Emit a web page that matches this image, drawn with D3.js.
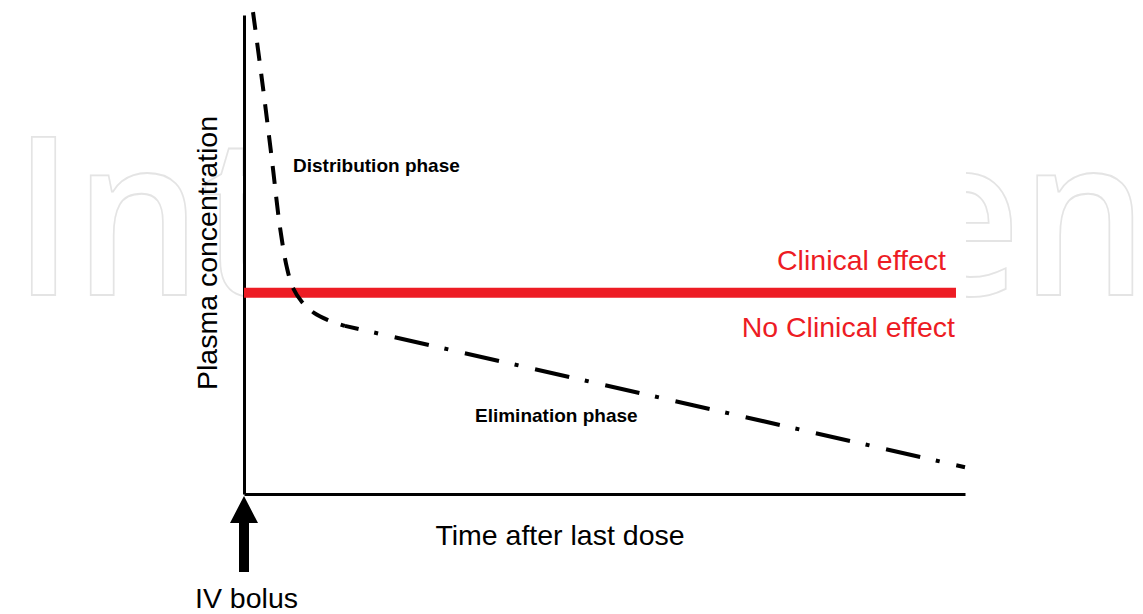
<!DOCTYPE html>
<meta charset="utf-8">
<style>
body { margin: 0; background: #fff; }
svg text { font-family: 'Liberation Sans', Arial, sans-serif; }
.axis path { stroke: #000; stroke-width: 3px; }
.axis .tick { display: none; }
.curve { fill: none; stroke: #000; stroke-width: 4px; }
.distribution { stroke-dasharray: 18 13; }
.elimination { stroke-dasharray: 35 16 4 17; stroke-dashoffset: -51; }
.label { font-size: 19px; font-weight: bold; fill: #000; }
.big { font-size: 28.5px; fill: #000; }
.big.red { fill: #ed1c24; }
</style>
<svg id="svg" width="1143" height="614"></svg>
<script src="https://cdn.jsdelivr.net/npm/d3@7"></script>
<script>

// distribution phase (steep fall), time vs concentration, arbitrary units
let distTime = [1.25, 2.5, 3.88, 4.99, 5.96, 6.8, 8.04, 9.71, 11.65, 14.0]
let distConc = [100.6, 86.4, 69.7, 55.7, 47.2, 43.0, 40.1, 37.8, 36.3, 35.1]

// elimination phase (slow linear fall)
let elimTime = [14.0, 100]
let elimConc = [35.1, 5.6]

// minimum effective concentration
let effectLevel = 42
let effectEnd = 98.75

let width = 1143, height = 614

function translate(x, y) {
    return 'translate(' + x + ',' + y + ')'
}

let svg = d3.select('#svg').attr('width', width).attr('height', height)

let x = d3.scaleLinear().domain([0, 100]).range([244, 965])
let y = d3.scaleLinear().domain([0, 100]).range([494, 15])

// watermark behind the chart
svg.append('text')
    .attr('x', 13)
    .attr('y', 295)
    .attr('textLength', 1135)
    .attr('lengthAdjust', 'spacingAndGlyphs')
    .style('font-family', "'Open Sans', sans-serif")
    .style('font-size', '222px')
    .style('font-weight', 600)
    .attr('fill', 'none')
    .attr('stroke', '#e4e4e4')
    .attr('stroke-width', 1.8)
    .text('IntechOpen')

svg.append('rect')
    .attr('x', x(0))
    .attr('y', 0)
    .attr('width', x(100) - x(0) + 1)
    .attr('height', y(0))
    .attr('fill', '#fff')

// axes, no ticks
svg.append('g')
    .attr('class', 'axis')
    .attr('transform', translate(0, y(0)))
    .call(d3.axisBottom(x).ticks(0).tickSizeOuter(0))

svg.append('g')
    .attr('class', 'axis')
    .attr('transform', translate(x(0), 0))
    .call(d3.axisLeft(y).ticks(0).tickSizeOuter(0))

// clinical effect threshold
svg.append('line')
    .attr('x1', x(0))
    .attr('x2', x(effectEnd))
    .attr('y1', y(effectLevel))
    .attr('y2', y(effectLevel))
    .attr('stroke', '#ed1c24')
    .attr('stroke-width', 10)

let line = d3.line()
    .curve(d3.curveCatmullRom)
    .x(d => x(d[0]))
    .y(d => y(d[1]))

svg.append('path')
    .attr('class', 'curve distribution')
    .attr('d', line(d3.zip(distTime, distConc)))

svg.append('path')
    .attr('class', 'curve elimination')
    .attr('d', line(d3.zip(elimTime, elimConc)))

// labels
svg.append('text').attr('class', 'label')
    .attr('x', 293).attr('y', 172)
    .text('Distribution phase')

svg.append('text').attr('class', 'label')
    .attr('x', 475).attr('y', 422)
    .text('Elimination phase')

svg.append('text').attr('class', 'big red')
    .attr('x', 946).attr('y', 270)
    .attr('text-anchor', 'end')
    .text('Clinical effect')

svg.append('text').attr('class', 'big red')
    .attr('x', 955).attr('y', 337)
    .attr('text-anchor', 'end')
    .text('No Clinical effect')

svg.append('text').attr('class', 'big')
    .attr('x', 560).attr('y', 545)
    .attr('text-anchor', 'middle')
    .text('Time after last dose')

svg.append('text').attr('class', 'big')
    .attr('transform', translate(217, 253) + ' rotate(-90)')
    .attr('text-anchor', 'middle')
    .text('Plasma concentration')

svg.append('text').attr('class', 'big')
    .attr('x', 195).attr('y', 608)
    .text('IV bolus')

// IV bolus arrow pointing at time zero
let ax = x(0), ay = y(0) + 2
svg.append('path')
    .attr('d', d3.line()([
        [ax, ay], [ax + 14, ay + 27], [ax + 5, ay + 27], [ax + 5, ay + 76],
        [ax - 5, ay + 76], [ax - 5, ay + 27], [ax - 14, ay + 27]
    ]) + 'Z')
    .attr('fill', '#000')

</script>
